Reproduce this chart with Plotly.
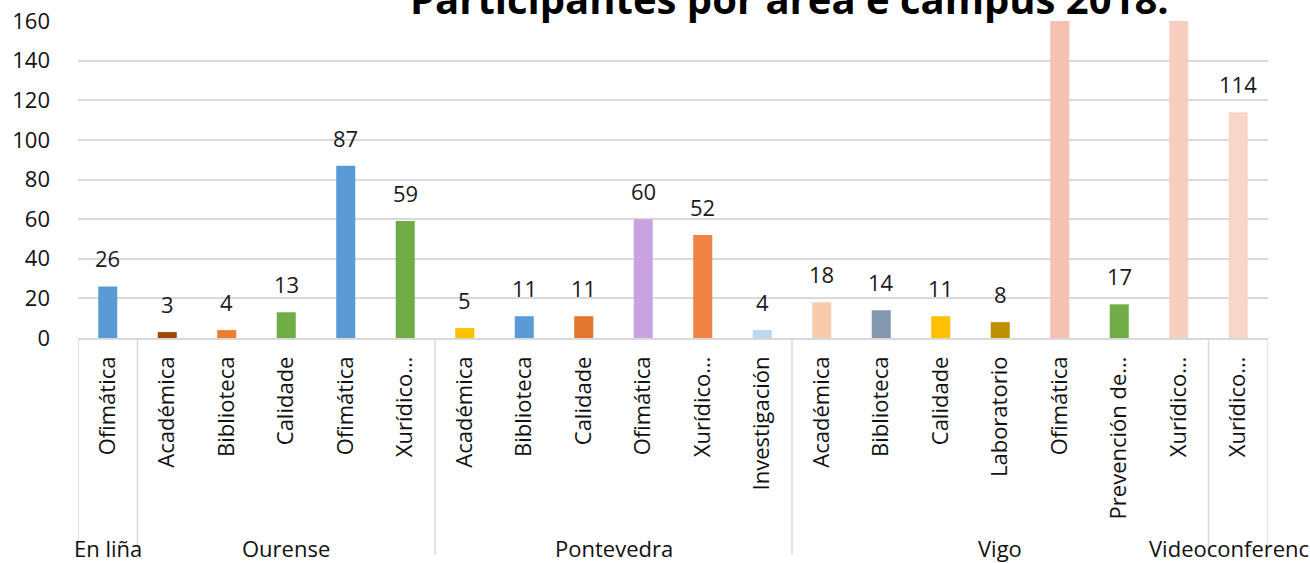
import plotly.graph_objects as go

# campus groups and areas (one bar per area)
groups = ["En liña", "Ourense", "Pontevedra", "Vigo", "Videoconferencia"]
group_sizes = [1, 5, 6, 7, 1]

areas = [
    "Ofimática",
    "Académica", "Biblioteca", "Calidade", "Ofimática", "Xurídico…",
    "Académica", "Biblioteca", "Calidade", "Ofimática", "Xurídico…", "Investigación",
    "Académica", "Biblioteca", "Calidade", "Laboratorio", "Ofimática", "Prevención de…", "Xurídico…",
    "Xurídico…",
]

# participants; two Vigo bars run off the top of the scale (value not visible)
participants = [26, 3, 4, 13, 87, 59, 5, 11, 11, 60, 52, 4, 18, 14, 11, 8, 190, 17, 175, 114]

colors = [
    "#5B9BD5",
    "#9E480E", "#ED7D31", "#70AD47", "#5B9BD5", "#70AD47",
    "#FFC000", "#5B9BD5", "#E2772F", "#C9A3E0", "#EF8344", "#BDD7EE",
    "#F8CBAD", "#8497B0", "#FFC000", "#BF9000", "#F4C2AE", "#70AD47", "#F6CFC1",
    "#F8D6CA",
]

y_max = 160
font_name = "Open Sans, Lato, sans-serif"
grid_col = "#D9D9D9"

xs = list(range(len(areas)))

fig = go.Figure()
fig.add_trace(go.Bar(
    x=xs, y=participants,
    marker=dict(color=colors, line=dict(width=0)),
    width=0.32,
    hoverinfo="y",
))

annotations = []
# value labels above bars (only those inside the scale are visible)
for x, v in zip(xs, participants):
    if v <= y_max:
        annotations.append(dict(
            x=x, y=v, xref="x", yref="y", text=str(v), showarrow=False,
            yanchor="bottom", yshift=11, font=dict(size=22, color="#1a1a1a", family=font_name),
        ))

# group labels and separators under the axis
shapes = []
start = 0
bounds = [-0.5]
for g, n in zip(groups, group_sizes):
    center = start + (n - 1) / 2
    annotations.append(dict(
        x=center, y=-0.662, xref="x", yref="paper", text=g, showarrow=False,
        yanchor="middle", font=dict(size=22, color="#111111", family=font_name),
    ))
    start += n
    bounds.append(start - 0.5)

for b in bounds:
    shapes.append(dict(
        type="line", xref="x", yref="paper", x0=b, x1=b, y0=0, y1=-0.685,
        line=dict(color=grid_col, width=1.5),
    ))

# title, partly cut off at the top as in the source image
annotations.append(dict(
    x=0.598, y=1.0, xref="paper", yref="paper", xanchor="center", yanchor="bottom",
    yshift=-7, text="<b>Participantes por área e campus 2018.</b>", showarrow=False,
    font=dict(size=40, color="#000000", family=font_name),
))

fig.update_layout(
    width=1310, height=563,
    margin=dict(l=78, r=42, t=21, b=225, autoexpand=False),
    paper_bgcolor="white", plot_bgcolor="white",
    showlegend=False,
    font=dict(family=font_name, color="#111111"),
    annotations=annotations,
    shapes=shapes,
    xaxis=dict(
        range=[-0.5, len(areas) - 0.5],
        tickvals=xs, ticktext=areas, tickangle=-90,
        tickfont=dict(size=22, color="#111111"),
        showgrid=False, zeroline=False, automargin=False,
        showline=True, linecolor=grid_col, linewidth=1.5,
        ticks="", ticklabelstandoff=8,
    ),
    yaxis=dict(
        range=[0, y_max], dtick=20,
        tickfont=dict(size=22, color="#111111"),
        showgrid=True, gridcolor=grid_col, gridwidth=1.5, automargin=False,
        zeroline=False, showline=False, ticks="", ticklabelstandoff=27,
    ),
)

# drop the browser's default body margin so the figure sits at the page corner
fig.write_html("out.html", config={"displayModeBar": False},
               post_script="document.body.style.margin='0';")
